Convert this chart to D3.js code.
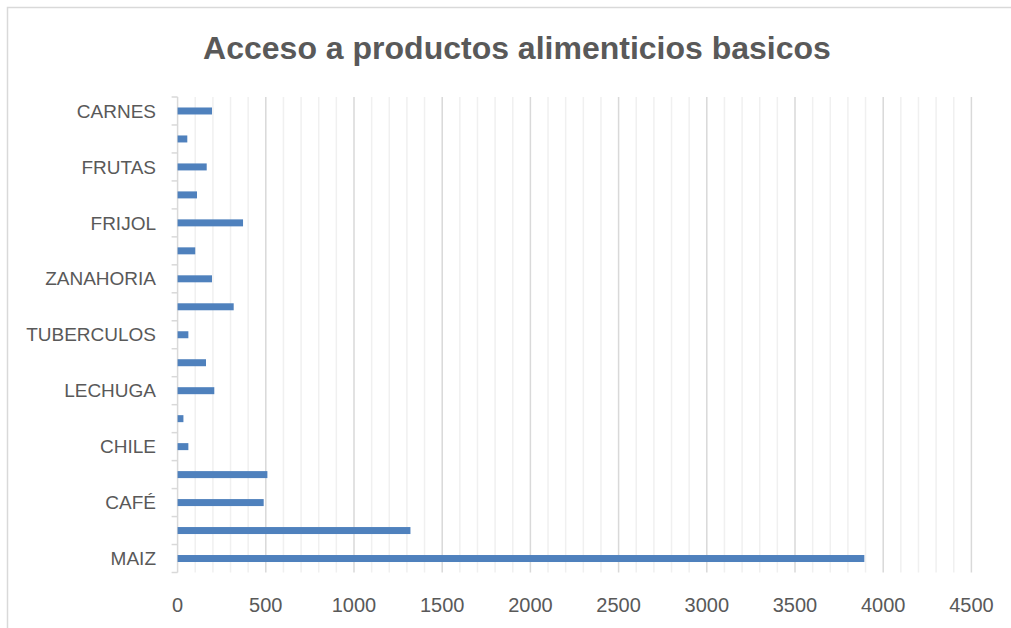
<!DOCTYPE html>
<html>
<head>
<meta charset="utf-8">
<script src="https://d3js.org/d3.v7.min.js"></script>
<style>
  body { margin: 0; background: #fff; }
  text { font-family: "Liberation Sans", Arial, sans-serif; fill: #595959; }
</style>
</head>
<body>
<script>
// bottom to top, Excel shows only every other label
var categories = ["MAIZ", "", "CAFÉ", "", "CHILE", "", "LECHUGA", "", "TUBERCULOS", "",
                  "ZANAHORIA", "", "FRIJOL", "", "FRUTAS", "", "CARNES"];
var values = [3893, 1320, 488, 509, 61, 33, 208, 161, 61, 318,
              195, 100, 371, 110, 165, 55, 195];
var majorTicks = [0, 500, 1000, 1500, 2000, 2500, 3000, 3500, 4000, 4500];
var title = "Acceso a productos alimenticios basicos";

var w = 1011, h = 628;
var svg = d3.select("body").append("svg")
    .attr("width", w)
    .attr("height", h);

// chart frame (cropped on right and bottom)
svg.append("path")
    .attr("d", "M7.5," + h + "V7.5H" + w)
    .attr("fill", "none")
    .attr("stroke", "#d9d9d9")
    .attr("stroke-width", 1.5);

var plotL = 177.6, plotR = 971.4, plotT = 97, plotB = 572.5;

var x = d3.scaleLinear().domain([0, 4500]).range([plotL, plotR]);
var y = d3.scaleBand().domain(d3.range(categories.length)).range([plotB, plotT]);

// minor gridlines
svg.append("g").selectAll("line")
    .data(d3.range(100, 4501, 100).filter(function(d) { return d % 500 != 0; }))
    .enter().append("line")
    .attr("x1", function(d) { return x(d); })
    .attr("x2", function(d) { return x(d); })
    .attr("y1", plotT).attr("y2", plotB)
    .attr("stroke", "#f0f0f0")
    .attr("stroke-width", 1.5);

// major gridlines
svg.append("g").selectAll("line")
    .data(majorTicks.slice(1))
    .enter().append("line")
    .attr("x1", function(d) { return x(d); })
    .attr("x2", function(d) { return x(d); })
    .attr("y1", plotT).attr("y2", plotB)
    .attr("stroke", "#d9d9d9")
    .attr("stroke-width", 1.5);

// y axis line + tick marks at band edges
svg.append("line")
    .attr("x1", plotL).attr("x2", plotL)
    .attr("y1", plotT).attr("y2", plotB)
    .attr("stroke", "#d9d9d9").attr("stroke-width", 1.5);
svg.append("g").selectAll("line")
    .data(d3.range(categories.length + 1))
    .enter().append("line")
    .attr("x1", plotL - 6).attr("x2", plotL)
    .attr("y1", function(i) { return plotB - i * y.step(); })
    .attr("y2", function(i) { return plotB - i * y.step(); })
    .attr("stroke", "#d9d9d9").attr("stroke-width", 1.5);

// bars
var barH = y.bandwidth() * 0.25;
svg.append("g").selectAll("rect")
    .data(values)
    .enter().append("rect")
    .attr("x", x(0))
    .attr("y", function(d, i) { return y(i) + (y.bandwidth() - barH) / 2; })
    .attr("width", function(d) { return x(d) - x(0); })
    .attr("height", barH)
    .attr("fill", "#4f81bd");

// category labels
svg.append("g").selectAll("text")
    .data(categories)
    .enter().append("text")
    .text(function(d) { return d; })
    .attr("x", 156)
    .attr("y", function(d, i) { return y(i) + y.bandwidth() / 2; })
    .attr("dy", "0.35em")
    .attr("text-anchor", "end")
    .attr("font-size", 19);

// value axis labels
svg.append("g").selectAll("text")
    .data(majorTicks)
    .enter().append("text")
    .text(function(d) { return d; })
    .attr("x", function(d) { return x(d); })
    .attr("y", 612)
    .attr("text-anchor", "middle")
    .attr("font-size", 20);

// title
svg.append("text")
    .text(title)
    .attr("x", 517)
    .attr("y", 59)
    .attr("text-anchor", "middle")
    .attr("font-size", 32)
    .attr("font-weight", "bold");
</script>
</body>
</html>
